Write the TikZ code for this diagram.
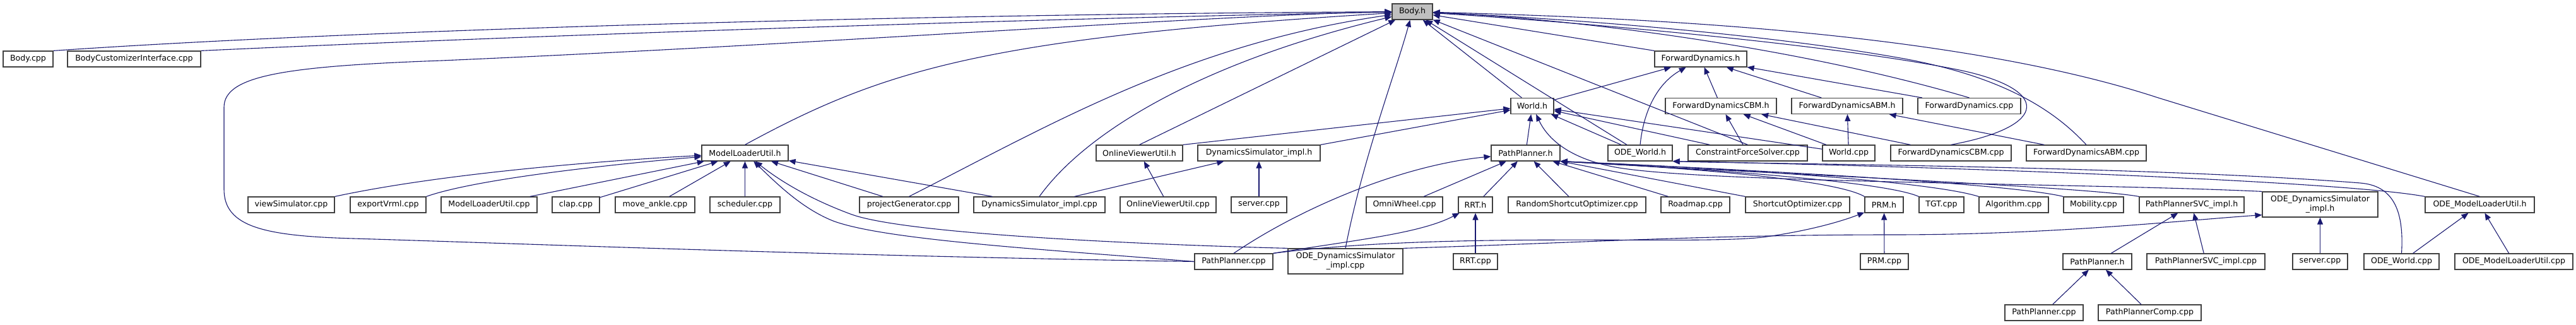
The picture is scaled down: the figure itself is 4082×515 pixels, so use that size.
\documentclass[tikz,border=0pt]{standalone}
\usepackage{fontspec}
\setmainfont{DejaVu Sans}
\usetikzlibrary{arrows.meta}
\definecolor{edgeblue}{RGB}{25,25,112}
\definecolor{boxgray}{RGB}{64,64,64}
\definecolor{headgray}{RGB}{191,191,191}
\newcommand{\filefont}{\fontsize{12.6bp}{15bp}\selectfont}
\tikzset{
  filebox/.style={draw=boxgray, fill=white, line width=1.2bp, minimum width=#1, minimum height=25bp, inner xsep=2bp, inner ysep=1bp, font=\filefont},
  dep/.style={draw=edgeblue, line width=1.1bp, ->},
}
\begin{document}
\begin{tikzpicture}[x=1bp, y=1bp, >={Triangle[length=11bp,width=9bp]}]
\useasboundingbox (0,0) rectangle (4082,-515);
\node[filebox=64bp, fill=headgray] (bodyh) at (2238,-18.5) {Body.h};
\node[filebox=79bp] (bodycpp) at (44.5,-93.5) {Body.cpp};
\node[filebox=211bp] (bodyci) at (212.5,-93.5) {BodyCustomizerInterface.cpp};
\node[filebox=146bp] (fdh) at (2695,-93.5) {ForwardDynamics.h};
\node[filebox=68bp] (worldh) at (2428,-168) {World.h};
\node[filebox=176bp] (fdcbmh) at (2727,-168) {ForwardDynamicsCBM.h};
\node[filebox=176bp] (fdabmh) at (2927,-168) {ForwardDynamicsABM.h};
\node[filebox=163bp] (fdcpp) at (3120.5,-168) {ForwardDynamics.cpp};
\node[filebox=137bp] (mluh) at (1180.5,-242.5) {ModelLoaderUtil.h};
\node[filebox=137bp] (ovuh) at (1805.5,-242.5) {OnlineViewerUtil.h};
\node[filebox=194bp] (dsimh) at (1995,-242.5) {DynamicsSimulator\_impl.h};
\node[filebox=109bp] (pph) at (2417.5,-242.5) {PathPlanner.h};
\node[filebox=102bp] (odeworldh) at (2599,-242.5) {ODE\_World.h};
\node[filebox=189bp] (cfs) at (2769.5,-242.5) {ConstraintForceSolver.cpp};
\node[filebox=83bp] (worldcpp) at (2929.5,-242.5) {World.cpp};
\node[filebox=191bp] (fdcbmcpp) at (3091.5,-242.5) {ForwardDynamicsCBM.cpp};
\node[filebox=190bp] (fdabmcpp) at (3306,-242.5) {ForwardDynamicsABM.cpp};
\node[filebox=137bp] (viewsim) at (461.5,-324.5) {viewSimulator.cpp};
\node[filebox=120bp] (exportvrml) at (615,-324.5) {exportVrml.cpp};
\node[filebox=152bp] (mlucpp) at (775,-324.5) {ModelLoaderUtil.cpp};
\node[filebox=75bp] (clap) at (912.5,-324.5) {clap.cpp};
\node[filebox=126bp] (moveankle) at (1038,-324.5) {move\_ankle.cpp};
\node[filebox=111bp] (scheduler) at (1180.5,-324.5) {scheduler.cpp};
\node[filebox=157bp] (projgen) at (1440.5,-324.5) {projectGenerator.cpp};
\node[filebox=208bp] (dsimcpp) at (1647,-324.5) {DynamicsSimulator\_impl.cpp};
\node[filebox=152bp] (ovucpp) at (1851,-324.5) {OnlineViewerUtil.cpp};
\node[filebox=88bp] (serverone) at (1995,-324.5) {server.cpp};
\node[filebox=121bp] (omni) at (2225.5,-324.5) {OmniWheel.cpp};
\node[filebox=54bp] (rrth) at (2338,-324.5) {RRT.h};
\node[filebox=218bp] (randsc) at (2499,-324.5) {RandomShortcutOptimizer.cpp};
\node[filebox=109bp] (roadmap) at (2686.5,-324.5) {Roadmap.cpp};
\node[filebox=165bp] (shortcut) at (2848.5,-324.5) {ShortcutOptimizer.cpp};
\node[filebox=61bp] (prmh) at (2985.5,-324.5) {PRM.h};
\node[filebox=71bp] (tgt) at (3076.5,-324.5) {TGT.cpp};
\node[filebox=110bp] (algo) at (3191,-324.5) {Algorithm.cpp};
\node[filebox=95bp] (mobility) at (3317.5,-324.5) {Mobility.cpp};
\node[filebox=166bp] (ppsvch) at (3473,-324.5) {PathPlannerSVC\_impl.h};
\node[filebox=183bp, minimum height=40bp, align=center] (odesimh) at (3676.5,-324) {ODE\_DynamicsSimulator\\\_impl.h};
\node[filebox=173bp] (odemluh) at (3929.5,-324.5) {ODE\_ModelLoaderUtil.h};
\node[filebox=124bp] (ppcppone) at (1955,-414.5) {PathPlanner.cpp};
\node[filebox=182bp, minimum height=40bp, align=center] (odesimcpp) at (2132,-414) {ODE\_DynamicsSimulator\\\_impl.cpp};
\node[filebox=70bp] (rrtcpp) at (2338,-414.5) {RRT.cpp};
\node[filebox=76bp] (prmcpp) at (2986,-414.5) {PRM.cpp};
\node[filebox=109bp] (pphtwo) at (3323.5,-414.5) {PathPlanner.h};
\node[filebox=187bp] (ppsvccpp) at (3495.5,-414.5) {PathPlannerSVC\_impl.cpp};
\node[filebox=87bp] (servertwo) at (3676.5,-414.5) {server.cpp};
\node[filebox=119bp] (odeworldcpp) at (3805.5,-414.5) {ODE\_World.cpp};
\node[filebox=187bp] (odemlucpp) at (3983.5,-414.5) {ODE\_ModelLoaderUtil.cpp};
\node[filebox=124bp] (ppcpptwo) at (3239,-495.5) {PathPlanner.cpp};
\node[filebox=163bp] (ppcomp) at (3406.5,-495.5) {PathPlannerComp.cpp};
\draw[dep] (bodycpp.north east) .. controls (600,-45) and (1500,-22) .. (bodyh);
\draw[dep] (bodyci.north east) .. controls (800,-58) and (1600,-30) .. (bodyh);
\draw[dep] (mluh.north) .. controls (1400,-110) and (1560,-60) .. (bodyh);
\draw[dep] (ppcppone.west) .. controls (1300,-405) and (800,-385) .. (560,-378) .. controls (420,-374) and (355,-360) .. (355,-300) -- (355,-170) .. controls (355,-120) and (450,-105) .. (700,-96) .. controls (1300,-70) and (1900,-25) .. (bodyh.west);
\draw[dep] (projgen.north) .. controls (1660,-200) and (1880,-70) .. (bodyh);
\draw[dep] (dsimcpp.north) .. controls (1720,-210) and (1900,-100) .. (bodyh);
\draw[dep] (ovuh.north) to (bodyh);
\draw[dep] (worldh) to (bodyh);
\draw[dep] (odesimcpp.north) .. controls (2160,-250) and (2210,-120) .. (bodyh);
\draw[dep] (odeworldh) to (bodyh);
\draw[dep] (cfs.north) to (bodyh);
\draw[dep] (fdh.north west) to (bodyh);
\draw[dep] (fdcpp.north) .. controls (2850,-75) and (2500,-30) .. (bodyh);
\draw[dep] (fdcbmcpp.north) .. controls (3250,-200) and (3250,-140) .. (3100,-110) .. controls (2900,-70) and (2500,-35) .. (bodyh);
\draw[dep] (fdabmcpp.north) .. controls (3260,-180) and (3180,-120) .. (3000,-90) .. controls (2800,-55) and (2500,-30) .. (bodyh);
\draw[dep] (odemluh.north) -- (3420,-155) .. controls (3100,-50) and (2600,-28) .. (bodyh);
\draw[dep] (worldh) to (fdh);
\draw[dep] (odeworldh.north) .. controls (2605,-170) and (2630,-130) .. (fdh);
\draw[dep] (fdcbmh) to (fdh);
\draw[dep] (fdabmh) to (fdh);
\draw[dep] (fdcpp) to (fdh);
\draw[dep] (cfs) to (fdcbmh);
\draw[dep] (worldcpp) to (fdcbmh);
\draw[dep] (fdcbmcpp) to (fdcbmh);
\draw[dep] (worldcpp) to (fdabmh);
\draw[dep] (fdabmcpp) to (fdabmh);
\draw[dep] (ovuh.north east) to (worldh);
\draw[dep] (dsimh.north east) to (worldh);
\draw[dep] (pph) to (worldh);
\draw[dep] (odeworldh) to (worldh);
\draw[dep] (cfs) to (worldh);
\draw[dep] (worldcpp) to (worldh);
\draw[dep] (odesimh.north west) .. controls (3300,-290) and (2700,-290) .. (2560,-265) .. controls (2480,-250) and (2450,-215) .. (worldh);
\draw[dep] (ppcppone.north) .. controls (2060,-330) and (2220,-262) .. (pph);
\draw[dep] (omni) to (pph);
\draw[dep] (rrth) to (pph);
\draw[dep] (randsc) to (pph);
\draw[dep] (roadmap) to (pph);
\draw[dep] (shortcut.north west) to (pph.south east);
\draw[dep] (prmh.north west) .. controls (2900,-280) and (2600,-262) .. (pph.south east);
\draw[dep] (tgt.north west) .. controls (2980,-285) and (2650,-265) .. (pph.south east);
\draw[dep] (algo.north west) .. controls (3050,-285) and (2700,-265) .. (pph.south east);
\draw[dep] (mobility.north west) .. controls (3180,-290) and (2750,-268) .. (pph.south east);
\draw[dep] (ppsvch.north west) .. controls (3300,-295) and (2700,-270) .. (pph.south east);
\draw[dep] (odeworldcpp.north) .. controls (3810,-330) and (3790,-294) .. (3740,-290) .. controls (3400,-263) and (2800,-260) .. (odeworldh.south east);
\draw[dep] (odemluh.north west) .. controls (3700,-285) and (3000,-262) .. (odeworldh.south east);
\draw[dep] (servertwo) to (odesimh);
\draw[dep] (odesimcpp.north east) .. controls (2500,-385) and (2700,-372) .. (3000,-372) .. controls (3250,-372) and (3450,-350) .. ([yshift=4bp]odesimh.south west);
\draw[dep] (ppsvccpp) to (ppsvch);
\draw[dep] (pphtwo) to (ppsvch);
\draw[dep] (ppcpptwo) to (pphtwo);
\draw[dep] (ppcomp) to (pphtwo);
\draw[dep] (odeworldcpp) to (odemluh);
\draw[dep] (odemlucpp) to (odemluh);
\draw[dep] (viewsim.north east) .. controls (700,-275) and (950,-255) .. (mluh);
\draw[dep] (exportvrml.north east) .. controls (750,-285) and (950,-262) .. (mluh);
\draw[dep] (mlucpp) to (mluh);
\draw[dep] (clap) to (mluh);
\draw[dep] (moveankle) to (mluh);
\draw[dep] (scheduler) to (mluh);
\draw[dep] (projgen) to (mluh);
\draw[dep] (dsimcpp) to (mluh);
\draw[dep] (ppcppone.west) .. controls (1650,-395) and (1400,-380) .. (1320,-350) .. controls (1270,-330) and (1230,-290) .. (mluh);
\draw[dep] (odesimcpp.north west) .. controls (1900,-390) and (1450,-375) .. (1350,-340) .. controls (1290,-318) and (1240,-290) .. (mluh);
\draw[dep] (dsimcpp) to (dsimh);
\draw[dep] (serverone) to (dsimh);
\draw[dep] (ovucpp) to (ovuh);
\draw[dep] (rrtcpp) to (rrth);
\draw[dep] (ppcppone.north east) .. controls (2150,-380) and (2250,-370) .. (rrth);
\draw[dep] (prmcpp) to (prmh);
\draw[dep] (ppcppone.north east) .. controls (2300,-365) and (2700,-390) .. (2800,-375) .. controls (2870,-365) and (2920,-350) .. (prmh);
\end{tikzpicture}
\end{document}
